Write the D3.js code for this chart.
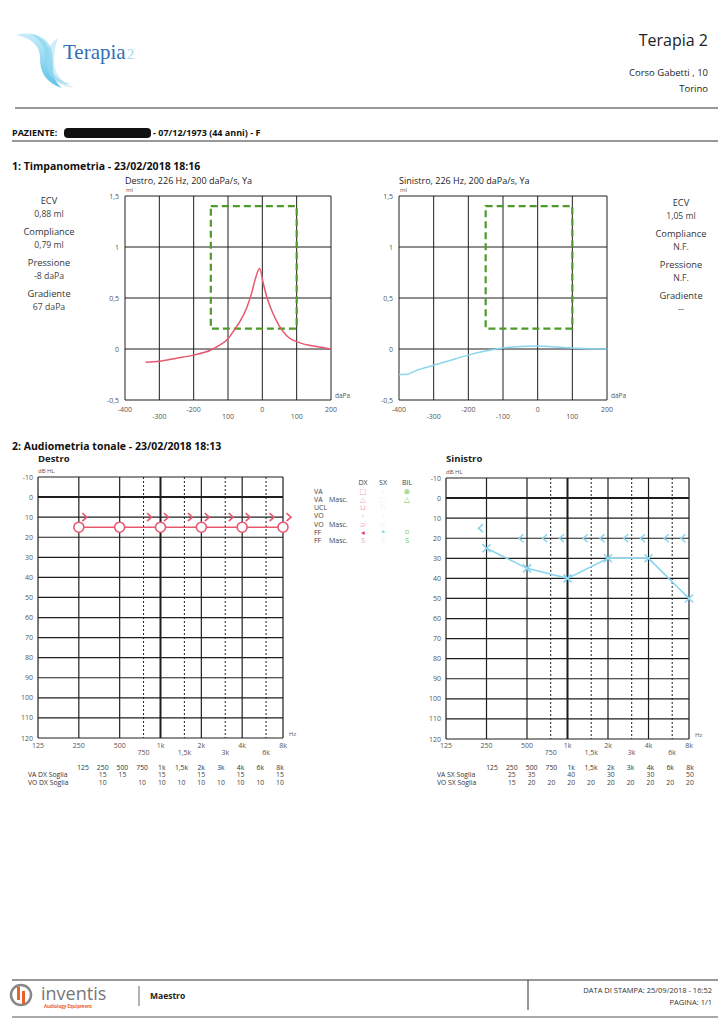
<!DOCTYPE html>
<html>
<head>
<meta charset="utf-8">
<script src="https://cdnjs.cloudflare.com/ajax/libs/d3/7.8.5/d3.min.js"></script>
<style>
  body { margin: 0; background: #fff; }
  text { font-family: "Open Sans", "DejaVu Sans", sans-serif; fill: #333; }
</style>
</head>
<body>
<script>
const W = 725;
const H = 1024;

// timpanometria
const tympXTicks = [-400, -300, -200, -100, 0, 100, 200];
const tympXLabelsDX = ["-400", "-300", "-200", "100", "0", "100", "200"];
const tympXLabelsSX = ["-400", "-300", "-200", "-100", "0", "100", "200"];
const tympYTicks = [-0.5, 0, 0.5, 1, 1.5];
const tympYLabels = ["-0,5", "0", "0,5", "1", "1,5"];
const normalBox = [-150, 100, 0.2, 1.4];

const curveDX = [
  [-340, -0.13], [-300, -0.12], [-250, -0.09], [-200, -0.06], [-150, -0.01],
  [-123, 0.04], [-100, 0.10], [-85, 0.17], [-65, 0.27], [-46, 0.40],
  [-31, 0.55], [-21, 0.68], [-8, 0.79], [3, 0.64], [13, 0.51], [27, 0.38],
  [47, 0.24], [71, 0.13], [110, 0.06], [158, 0.025], [200, 0.0]
];
const curveSX = [
  [-400, -0.25], [-379, -0.25], [-350, -0.21], [-300, -0.16], [-251, -0.11],
  [-200, -0.06], [-150, -0.02], [-100, 0.01], [-50, 0.025], [0, 0.03],
  [49, 0.02], [100, 0.01], [166, 0.0], [200, 0.0]
];

const statsDX = [["ECV", "0,88 ml"], ["Compliance", "0,79 ml"], ["Pressione", "-8 daPa"], ["Gradiente", "67 daPa"]];
const statsSX = [["ECV", "1,05 ml"], ["Compliance", "N.F."], ["Pressione", "N.F."], ["Gradiente", "--"]];

// audiometria
const freqs = [125, 250, 500, 750, 1000, 1500, 2000, 3000, 4000, 6000, 8000];
const freqLabels = ["125", "250", "500", "750", "1k", "1,5k", "2k", "3k", "4k", "6k", "8k"];
const octaves = [125, 250, 500, 1000, 2000, 4000, 8000];
const halfOctaves = [750, 1500, 3000, 6000];
const dbTicks = [-10, 0, 10, 20, 30, 40, 50, 60, 70, 80, 90, 100, 110, 120];

const vaDX = [null, 15, 15, null, 15, null, 15, null, 15, null, 15];
const voDX = [null, 10, null, 10, 10, 10, 10, 10, 10, 10, 10];
const vaSX = [null, 25, 35, null, 40, null, 30, null, 30, null, 50];
const voSX = [null, 15, 20, 20, 20, 20, 20, 20, 20, 20, 20];

const legendRows = ["VA", "VA  Masc.", "UCL", "VO", "VO  Masc.", "FF", "FF  Masc."];
const legendDX = ["□", "△", "⊔", "›", "⊃", "◂", "S"];
const legendSX = ["×", "□", "⊓", "‹", "⊂", "*", "Z"];
const legendBIL = ["⊗", "△", "", "", "", "⌑", "S"];

const RED = "#e8586f";
const CYAN = "#8ad6ee";
const GREEN = "#4f9a2c";
const GRID = "#1e1e1e";

const svg = d3.select("body").append("svg")
  .attr("width", W)
  .attr("height", H);

drawHeader();
drawTymp({ x0: 125, x1: 331, y0: 196, y1: 400, data: curveDX, color: RED, labels: tympXLabelsDX,
  title: "Destro, 226 Hz, 200 daPa/s, Ya" });
drawTymp({ x0: 399, x1: 607, y0: 196, y1: 400, data: curveSX, color: CYAN, labels: tympXLabelsSX,
  title: "Sinistro, 226 Hz, 200 daPa/s, Ya" });
drawStats(statsDX, 49, 204);
drawStats(statsSX, 681, 206);

svg.append("text").attr("x", 12).attr("y", 170)
  .style("font-size", "10.5px").style("font-weight", "bold").style("fill", "#111")
  .text("1: Timpanometria - 23/02/2018 18:16");
svg.append("text").attr("x", 12).attr("y", 450)
  .style("font-size", "10.5px").style("font-weight", "bold").style("fill", "#111")
  .text("2: Audiometria tonale - 23/02/2018 18:13");

drawAudio({ x0: 38, x1: 283, y0: 477, y1: 738, title: "Destro", va: vaDX, vo: voDX, color: RED, side: "dx" });
drawAudio({ x0: 446, x1: 689, y0: 478, y1: 739, title: "Sinistro", va: vaSX, vo: voSX, color: CYAN, side: "sx" });
drawLegend();
drawTable(83, 280, 28, "VA DX Soglia", "VO DX Soglia", vaDX, voDX);
drawTable(492, 690, 437, "VA SX Soglia", "VO SX Soglia", vaSX, voSX);
drawFooter();

function drawHeader() {
  // logo swoosh
  const g = svg.append("g");
  const grad = svg.append("defs").append("linearGradient").attr("id", "sw")
    .attr("x1", "0").attr("y1", "0").attr("x2", "0").attr("y2", "1");
  grad.append("stop").attr("offset", "0").attr("stop-color", "#bfeaf8");
  grad.append("stop").attr("offset", "1").attr("stop-color", "#3fb6e3");
  g.append("path").attr("d", "M16,35 C34,30 50,38 52,52 C54,66 50,78 62,88 C44,82 40,70 40,58 C40,46 32,38 16,35 Z")
    .attr("fill", "url(#sw)").attr("opacity", 0.85);
  g.append("path").attr("d", "M30,34 C44,36 50,46 50,60 C50,72 56,80 70,84 C56,84 46,76 46,62 C46,48 42,40 30,34 Z")
    .attr("fill", "#7dd2ef").attr("opacity", 0.6);
  g.append("path").attr("d", "M58,38 C48,44 44,56 48,70 C52,80 60,86 74,88 C60,82 54,72 54,60 C54,50 56,44 58,38 Z")
    .attr("fill", "#9fdcf2").attr("opacity", 0.5);
  const logo = svg.append("text").attr("x", 63).attr("y", 59)
    .style("font-family", "'Liberation Serif', serif").style("font-size", "21px").style("fill", "#2f6fb6");
  logo.append("tspan").text("Terapia");
  logo.append("tspan").attr("dx", 1).style("font-size", "15px").style("fill", "#9fd8ef").text("2");
  logo.append("tspan").attr("dy", -8).style("font-size", "5px").style("fill", "#9fd8ef").text("°");

  svg.append("text").attr("x", 708).attr("y", 46).attr("text-anchor", "end")
    .style("font-size", "16px").style("fill", "#222").text("Terapia 2");
  svg.append("text").attr("x", 708).attr("y", 76).attr("text-anchor", "end")
    .style("font-size", "9.5px").style("fill", "#222").text("Corso Gabetti , 10");
  svg.append("text").attr("x", 708).attr("y", 92).attr("text-anchor", "end")
    .style("font-size", "9.5px").style("fill", "#222").text("Torino");
  svg.append("line").attr("x1", 15).attr("x2", 718).attr("y1", 108).attr("y2", 108)
    .attr("stroke", "#333").attr("stroke-width", 1.2);

  svg.append("text").attr("x", 12).attr("y", 136)
    .style("font-size", "9px").style("font-weight", "bold").style("fill", "#111").text("PAZIENTE:");
  svg.append("rect").attr("x", 64).attr("y", 128).attr("width", 87).attr("height", 10).attr("rx", 4)
    .attr("fill", "#111");
  svg.append("text").attr("x", 153).attr("y", 136)
    .style("font-size", "9px").style("font-weight", "bold").style("fill", "#111")
    .text("- 07/12/1973 (44 anni) - F");
  svg.append("line").attr("x1", 12).attr("x2", 718).attr("y1", 141).attr("y2", 141)
    .attr("stroke", "#333").attr("stroke-width", 1.2);
}

function drawTymp(o) {
  const x = d3.scaleLinear().domain([-400, 200]).range([o.x0, o.x1]);
  const y = d3.scaleLinear().domain([-0.5, 1.5]).range([o.y1, o.y0]);
  const g = svg.append("g");

  g.selectAll(".vx").data(tympXTicks).enter().append("line")
    .attr("x1", d => x(d)).attr("x2", d => x(d)).attr("y1", o.y0).attr("y2", o.y1)
    .attr("stroke", GRID).attr("stroke-width", 1);
  g.selectAll(".hy").data(tympYTicks).enter().append("line")
    .attr("x1", o.x0).attr("x2", o.x1).attr("y1", d => y(d)).attr("y2", d => y(d))
    .attr("stroke", GRID).attr("stroke-width", 1);

  g.append("rect")
    .attr("x", x(normalBox[0])).attr("y", y(normalBox[3]))
    .attr("width", x(normalBox[1]) - x(normalBox[0]))
    .attr("height", y(normalBox[2]) - y(normalBox[3]))
    .attr("fill", "none").attr("stroke", GREEN).attr("stroke-width", 2.2)
    .attr("stroke-dasharray", "7,4");

  const line = d3.line().x(d => x(d[0])).y(d => y(d[1])).curve(d3.curveMonotoneX);
  g.append("path").datum(o.data).attr("d", line)
    .attr("fill", "none").attr("stroke", o.color).attr("stroke-width", 1.5);

  g.selectAll(".yl").data(tympYTicks).enter().append("text")
    .attr("x", o.x0 - 6).attr("y", d => y(d) + 2.5).attr("text-anchor", "end")
    .style("font-size", "7px").style("fill", "#555")
    .text((d, i) => tympYLabels[i]);
  g.selectAll(".xl").data(tympXTicks).enter().append("text")
    .attr("x", d => x(d)).attr("y", (d, i) => i % 2 === 0 ? 412 : 419)
    .attr("text-anchor", "middle")
    .style("font-size", "7px").style("fill", "#555")
    .text((d, i) => o.labels[i]);

  g.append("text").attr("x", o.x0 + 1).attr("y", 192)
    .style("font-size", "6px").style("fill", "#555").text("ml");
  g.append("text").attr("x", o.x1 + 4).attr("y", 398)
    .style("font-size", "6.5px").style("fill", "#555").text("daPa");
  g.append("text").attr("x", o.x0).attr("y", 183.5)
    .style("font-size", "9px").style("fill", "#222").text(o.title);
}

function drawStats(stats, cx, top) {
  const g = svg.append("g");
  stats.forEach((s, i) => {
    const yy = top + i * 31;
    g.append("text").attr("x", cx).attr("y", yy).attr("text-anchor", "middle")
      .style("font-size", "9.3px").style("fill", "#333").text(s[0]);
    g.append("text").attr("x", cx).attr("y", yy + 12.5).attr("text-anchor", "middle")
      .style("font-size", "8.7px").style("fill", "#444").text(s[1]);
  });
}

function drawAudio(o) {
  const x = d3.scaleLog().base(2).domain([125, 8000]).range([o.x0, o.x1]);
  const y = d3.scaleLinear().domain([-10, 120]).range([o.y0, o.y1]);
  const g = svg.append("g");

  g.selectAll(".hy").data(dbTicks).enter().append("line")
    .attr("x1", o.x0).attr("x2", o.x1).attr("y1", d => y(d)).attr("y2", d => y(d))
    .attr("stroke", GRID).attr("stroke-width", d => d === 0 ? 2 : 1.2);
  g.selectAll(".vo").data(octaves).enter().append("line")
    .attr("x1", d => x(d)).attr("x2", d => x(d)).attr("y1", o.y0).attr("y2", o.y1)
    .attr("stroke", GRID).attr("stroke-width", d => d === 1000 ? 2 : 1.2);
  g.selectAll(".vh").data(halfOctaves).enter().append("line")
    .attr("x1", d => x(d)).attr("x2", d => x(d)).attr("y1", o.y0).attr("y2", o.y1)
    .attr("stroke", GRID).attr("stroke-width", 1).attr("stroke-dasharray", "2,2");

  g.selectAll(".yl").data(dbTicks).enter().append("text")
    .attr("x", o.x0 - 5).attr("y", d => y(d) + 2.5).attr("text-anchor", "end")
    .style("font-size", "7px").style("fill", "#555").text(d => d);
  g.selectAll(".xl").data(freqs).enter().append("text")
    .attr("x", d => x(d))
    .attr("y", d => halfOctaves.includes(d) ? 755 : 748)
    .attr("text-anchor", "middle")
    .style("font-size", "7px").style("fill", "#555")
    .text((d, i) => freqLabels[i]);
  g.append("text").attr("x", o.x0).attr("y", o.y0 - 4)
    .style("font-size", "6px").style("fill", "#555").text("dB HL");
  g.append("text").attr("x", o.x1 + 6).attr("y", o.y1 - 2)
    .style("font-size", "6px").style("fill", "#555").text("Hz");
  g.append("text").attr("x", o.x0).attr("y", 462)
    .style("font-size", "9.5px").style("font-weight", "bold").style("fill", "#222").text(o.title);

  const va = freqs.map((f, i) => [f, o.va[i]]).filter(d => d[1] !== null);
  const vo = freqs.map((f, i) => [f, o.vo[i]]).filter(d => d[1] !== null);

  g.append("path").datum(va)
    .attr("d", d3.line().x(d => x(d[0])).y(d => y(d[1])))
    .attr("fill", "none").attr("stroke", o.color).attr("stroke-width", 1.6);

  if (o.side === "dx") {
    g.selectAll(".va").data(va).enter().append("circle")
      .attr("cx", d => x(d[0])).attr("cy", d => y(d[1])).attr("r", 5)
      .attr("fill", "#fff").attr("stroke", o.color).attr("stroke-width", 1.6);
    g.selectAll(".vo").data(vo).enter().append("path")
      .attr("d", d => {
        const cx = x(d[0]) + 6, cy = y(d[1]);
        return `M${cx - 2.5},${cy - 4} L${cx + 2},${cy} L${cx - 2.5},${cy + 4}`;
      })
      .attr("fill", "none").attr("stroke", o.color).attr("stroke-width", 1.6);
  } else {
    g.selectAll(".va").data(va).enter().append("path")
      .attr("d", d => {
        const cx = x(d[0]), cy = y(d[1]), r = 4;
        return `M${cx - r},${cy - r} L${cx + r},${cy + r} M${cx - r},${cy + r} L${cx + r},${cy - r}`;
      })
      .attr("fill", "none").attr("stroke", o.color).attr("stroke-width", 1.6);
    g.selectAll(".vo").data(vo).enter().append("path")
      .attr("d", d => {
        const cx = x(d[0]) - 6, cy = y(d[1]);
        return `M${cx + 2.5},${cy - 4} L${cx - 2},${cy} L${cx + 2.5},${cy + 4}`;
      })
      .attr("fill", "none").attr("stroke", o.color).attr("stroke-width", 1.6);
  }
}

function drawLegend() {
  const g = svg.append("g");
  const cols = [363, 383, 407];
  ["DX", "SX", "BIL"].forEach((h, i) => {
    g.append("text").attr("x", cols[i]).attr("y", 485).attr("text-anchor", "middle")
      .style("font-size", "7px").style("fill", "#444").text(h);
  });
  legendRows.forEach((r, i) => {
    const yy = 493.5 + i * 8.3;
    const parts = r.split("  ");
    g.append("text").attr("x", 314).attr("y", yy)
      .style("font-size", "7px").style("fill", "#444").text(parts[0]);
    if (parts[1]) {
      g.append("text").attr("x", 329).attr("y", yy)
        .style("font-size", "7px").style("fill", "#444").text(parts[1]);
    }
    g.append("text").attr("x", cols[0]).attr("y", yy).attr("text-anchor", "middle")
      .style("font-size", "7.5px").style("fill", i === 5 ? "#e8405f" : "#f2a2b2").text(legendDX[i]);
    g.append("text").attr("x", cols[1]).attr("y", yy).attr("text-anchor", "middle")
      .style("font-size", "7.5px").style("fill", i === 5 ? "#5cc6ea" : "#e6f6fb").text(legendSX[i]);
    g.append("text").attr("x", cols[2]).attr("y", yy).attr("text-anchor", "middle")
      .style("font-size", "7.5px").style("fill", "#6cc24a").text(legendBIL[i]);
  });
}

function drawTable(c0, c1, lx, lab1, lab2, row1, row2) {
  const x = d3.scalePoint().domain(freqLabels).range([c0, c1]);
  const g = svg.append("g");
  g.selectAll(".h").data(freqLabels).enter().append("text")
    .attr("x", d => x(d)).attr("y", 770).attr("text-anchor", "middle")
    .style("font-size", "6.8px").style("fill", "#333").text(d => d);
  g.append("text").attr("x", lx).attr("y", 777).style("font-size", "6.8px").style("fill", "#333").text(lab1);
  g.append("text").attr("x", lx).attr("y", 785).style("font-size", "6.8px").style("fill", "#333").text(lab2);
  g.selectAll(".r1").data(row1.map((v, i) => [freqLabels[i], v]).filter(d => d[1] !== null)).enter()
    .append("text").attr("x", d => x(d[0])).attr("y", 777).attr("text-anchor", "middle")
    .style("font-size", "6.8px").style("fill", "#444").text(d => d[1]);
  g.selectAll(".r2").data(row2.map((v, i) => [freqLabels[i], v]).filter(d => d[1] !== null)).enter()
    .append("text").attr("x", d => x(d[0])).attr("y", 785).attr("text-anchor", "middle")
    .style("font-size", "6.8px").style("fill", "#444").text(d => d[1]);
}

function drawFooter() {
  svg.append("line").attr("x1", 12).attr("x2", 718).attr("y1", 980).attr("y2", 980)
    .attr("stroke", "#333").attr("stroke-width", 1.2);
  svg.append("line").attr("x1", 12).attr("x2", 718).attr("y1", 1017).attr("y2", 1017)
    .attr("stroke", "#555").attr("stroke-width", 1);
  svg.append("line").attr("x1", 528).attr("x2", 528).attr("y1", 980).attr("y2", 1010)
    .attr("stroke", "#333").attr("stroke-width", 1);
  svg.append("line").attr("x1", 139).attr("x2", 139).attr("y1", 986).attr("y2", 1006)
    .attr("stroke", "#666").attr("stroke-width", 1);

  // inventis logo
  svg.append("circle").attr("cx", 21).attr("cy", 995).attr("r", 10)
    .attr("fill", "none").attr("stroke", "#888").attr("stroke-width", 2.5);
  svg.append("rect").attr("x", 17).attr("y", 987).attr("width", 3).attr("height", 13).attr("fill", "#e8622c");
  svg.append("rect").attr("x", 22).attr("y", 991).attr("width", 3).attr("height", 13).attr("fill", "#e8622c");
  svg.append("text").attr("x", 41).attr("y", 1000)
    .style("font-size", "18px").style("fill", "#777").text("inventis");
  svg.append("text").attr("x", 44).attr("y", 1008)
    .style("font-size", "4.5px").style("font-weight", "bold").style("fill", "#e8622c").text("Audiology Equipment");

  svg.append("text").attr("x", 150).attr("y", 999)
    .style("font-size", "8.5px").style("font-weight", "bold").style("fill", "#222").text("Maestro");
  svg.append("text").attr("x", 712).attr("y", 993).attr("text-anchor", "end")
    .style("font-size", "7.5px").style("fill", "#333").text("DATA DI STAMPA: 25/09/2018 - 16:52");
  svg.append("text").attr("x", 712).attr("y", 1005).attr("text-anchor", "end")
    .style("font-size", "7.5px").style("fill", "#333").text("PAGINA: 1/1");
}
</script>
</body>
</html>
